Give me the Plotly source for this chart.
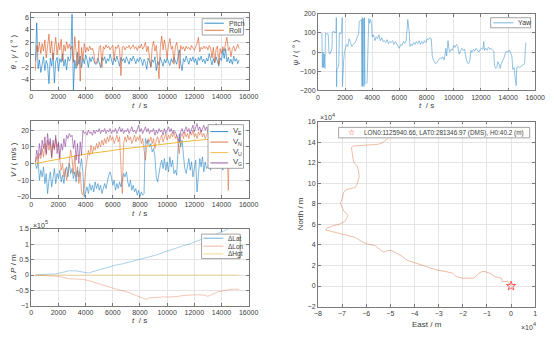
import plotly.graph_objects as go

W, H = 554, 337

# ---------------- data ----------------
# attitude / velocity sample times (s)
t_grid = list(range(300, 15301, 100))

pitch = [
    -1.0, 5.1, -2.2, -0.8, -2.8, -1.2, -0.3, -2.5, -0.9, -1.6,
    -4.6, -0.5, -1.8, 0.3, -4.5, -1.0, -0.4, -2.6, -0.6, -1.2,
    0.2, -1.8, -0.7, -2.4, -0.3, -1.0, -0.5, 6.5, -5.6, -0.8,
    -2.2, 0.4, -1.5, -0.2, -2.0, -0.6, -1.4, 0.0, -0.7, -2.0,
    -0.4, -1.1, -0.3, -0.9, -1.5, -1.3, -0.5, -1.2, -2.0, -0.4,
    -0.9, -0.3, -1.4, -0.6, -1.0, 0.1, -0.8, -1.6, -0.5, -1.1,
    -0.2, -0.9, -1.8, -0.4, -1.0, -0.6, -1.3, -0.3, -0.8, -1.5,
    -0.5, -1.0, -0.2, -0.9, -1.4, -0.6, -1.1, -0.4, -0.8, -1.7,
    -0.7, -1.2, -2.3, -0.5, -1.0, -1.9, -0.8, -1.2, -0.3, -2.5,
    -1.0, -1.6, -0.4, -1.1, -1.8, -0.7, -1.3, -0.5, -1.0, -1.7,
    -0.6, -1.2, -0.4, -0.9, -1.5, -0.3, 0.8, -1.4, -2.5, -0.6,
    -1.1, -0.2, -0.9, -1.5, -0.5, -1.0, -0.3, -1.2, -0.6, -1.6,
    -0.4, -0.9, -0.2, -1.1, -0.7, -1.4, -0.5, -1.0, 0.2, -0.8,
    -1.6, -0.6, -1.2, -0.3, -1.0, -1.8, -0.5, -0.9, 0.9, -0.6,
    1.0, -1.1, -0.4, -1.3, -0.7, -1.5, -0.2, -1.0, -0.6, -1.4,
    -0.8,
]

roll = [
    -2.5, 1.5, 0.5, 2.0, 0.2, 1.8, 0.6, 2.4, -0.5, 1.7,
    3.3, 0.3, 2.2, -0.8, 1.4, 2.8, 0.0, 1.9, 0.8, 2.5,
    -1.0, 1.6, 0.6, 2.1, 1.0, 1.7, 0.9, 1.4, -1.2, 2.9,
    0.5, -1.8, 2.3, -4.2, 1.2, -0.8, 1.8, 0.4, 1.2, 0.6,
    1.4, 0.8, 1.1, 0.3, -1.3, -1.5, -1.1, 1.2, 1.5, -2.0,
    1.3, 0.9, 1.6, 1.1, 1.4, 0.8, 1.2, 1.5, -0.8, 1.3,
    1.0, 1.6, 0.9, -3.3, 1.2, 1.4, 0.8, 1.3, 1.1, 1.5,
    0.9, 1.2, 1.6, 1.0, 1.3, 0.7, 1.4, 1.1, 1.7, 0.9,
    1.3, 2.0, 0.5, 1.4, -0.8, -2.0, 1.2, 2.2, 0.6, 1.5,
    -1.0, -3.8, 1.3, 3.0, 0.8, 2.4, 1.1, -0.5, 1.6, 2.6,
    0.9, 1.4, -1.5, 1.2, 2.0, 0.7, -2.2, 1.5, 0.9, 1.3,
    0.6, 1.4, 1.0, 1.2, 0.8, 1.5, 1.1, 0.7, 1.3, 1.8,
    2.8, 0.5, 1.2, 0.9, 1.4, 1.0, 1.3, 0.8, 1.5, 1.1,
    -0.5, 1.2, -1.3, 0.9, 1.4, -1.5, 1.0, 0.2, 1.3, 0.6,
    1.8, 2.8, 0.7, 1.2, -0.3, 1.0, 1.4, 0.6, 1.1, 1.7,
    1.0,
]

# heading, with wrap-around at +/-180 deg
yaw_t = [
    300, 330, 380, 420, 470, 520, 560, 640, 760, 820, 900, 980, 1040, 1060,
    1150, 1250, 1340, 1360, 1380, 1400, 1480, 1540, 1580, 1680, 1760, 1790,
    1810, 1840, 1900, 1960, 2020, 2100, 2200, 2300, 2400, 2500, 2600, 2700,
    2800, 2900, 3000, 3050, 3150, 3220, 3250, 3270, 3300, 3330, 3380, 3400,
    3430, 3470, 3550, 3620, 3700, 3750, 3800, 3880, 3950, 4000, 4100, 4200,
    4300, 4400, 4500, 4600, 4700, 4800, 4900, 5000, 5100, 5200, 5300, 5400,
    5500, 5600, 5700, 5800, 5900, 6000, 6100, 6200, 6300, 6400, 6500, 6560,
    6620, 6680, 6720, 6780, 6850, 6950, 7050, 7150, 7250, 7350, 7450, 7550,
    7650, 7750, 7850, 7950, 8050, 8150, 8250, 8350, 8420, 8500, 8600, 8700,
    8800, 8900, 9000, 9100, 9200, 9300, 9350, 9420, 9480, 9530, 9580, 9640,
    9700, 9800, 9900, 10000, 10100, 10200, 10300, 10400, 10500, 10600, 10700,
    10800, 10900, 11000, 11100, 11200, 11260, 11350, 11450, 11550, 11650,
    11750, 11850, 11950, 12050, 12150, 12210, 12270, 12350, 12450, 12550,
    12650, 12750, 12850, 12950, 13000, 13100, 13170, 13250, 13350, 13420,
    13500, 13600, 13700, 13800, 13900, 14000, 14100, 14200, 14280, 14350,
    14450, 14550, 14600, 14640, 14750, 14850, 14950, 15050, 15150, 15220,
    15280, 15320,
]
yaw = [
    100, -80, 0, -80, -10, -85, 100, 95, 95, -5, -10, 10, 20, 100,
    110, 100, 105, 180, -180, -90, -85, -60, 100, 95, 110, 180,
    -180, -90, -40, 0, 20, 40, 30, 70, 50, 30, 40, 45,
    60, 80, 95, 160, 165, 170, -180, 180, -175, 175, 170, -180,
    180, -160, -165, -160, 160, 175, 150, 170, 150, 80, 90, 60,
    80, 70, 90, 60, 75, 55, 60, 50, 65, 45, 55, 50,
    60, 40, 55, 45, 30, 20, 40, 35, 55, 45, 60, 120,
    170, 130, 110, 30, 40, 35, 50, 40, 55, 45, 60, 40,
    55, 45, 60, 50, 70, 65, 75, 70, -20, -40, -55, -60,
    -50, -45, -30, -35, -25, -40, -10, 20, -20, 30, 60, 20,
    0, 15, 10, 35, 25, 40, 30, -10, 5, 20, 10,
    15, -30, -55, -60, -40, 10, 0, 15, 5, 20,
    10, 0, 15, 20, 15, 55, 10, 20, 10, 25,
    15, 20, 10, 5, -70, -85, -80, -50, -65, -85,
    -60, -45, -30, -5, 5, 0, 10, -5, -20, -90,
    -80, -150, -175, -80, -75, -80, -75, -70, -65, -60,
    30, 50,
]

v_east = [
    0, -3, 1, -10, -4, -8, -2, -12, -6, -18,
    -10, -5, -14, -8, -3, -12, -6, -9, -4, -11,
    -7, -12, -5, -2, -8, 0, -6, -3, -9, -5,
    -11, -4, -8, -2, 3, -6, -20, -17, -14, -18,
    -12, -16, -13, -17, -11, -15, -12, -16, -13, -18,
    -14, -12, -15, -10, -7, -5, -8, -13, -10, -16,
    -12, -15, -11, -14, -9, -6, -8, -5, -11, -14,
    -10, -16, -13, -17, -15, -19, -16, -20, -17, -19,
    -18, 15, 12, 14, 10, 12, 7, 9, 4, -8,
    -11, -5, -1, 2, -3, 3, -4, 1, -5, 4,
    -2, 2, -6, -4, -7, 8, 18, 10, 14, 5,
    -3, -6, -2, 3, -4, 1, -8, -3, 2, -17,
    -4, 3, -2, 4, -5, 1, -3, -2, 1, -4,
    2, -1, 3, 0, -3, 2, -2, 1, -4, 3,
    0, -2, 2, -1, 3, 0, -2, 2, -1, 1,
    0,
]

v_north = [
    0, 4, 1, 6, 3, 9, 4, 12, 5, 14,
    8, 13, 3, 12, 8, 15, 10, 12, 2, -4,
    0, -8, -3, -10, -5, 2, 8, 3, -6, 5,
    -8, -2, -12, -5, -17, -19, -14, -4, 3, 8,
    5, 11, 6, 10, 8, 12, 9, 13, 10, 14,
    11, 15, 12, 16, 13, 17, 14, 16, 12, 15,
    17, 13, 16, -2, -18, 12, 16, 13, 17, 14,
    16, 12, 15, 17, 13, 16, 14, 17, 12, 15,
    8, 2, 10, 15, 13, 16, 12, 15, 9, 14,
    16, 12, 15, 17, 13, 16, 18, 14, 17, 15,
    18, 16, 19, 15, 17, 12, 6, 16, 18, 15,
    19, 16, 18, 15, 19, 17, 20, 16, 18, 15,
    19, 17, 20, 16, 18, 15, 17, 19, 16, 18,
    20, 17, 19, 16, 18, 20, 17, 19, 16, 18,
    20, 17, -16, 18, 19, 17, 20, 18, 19, 17,
    18,
]

v_ground = [
    1, 8, 3, 12, 5, 14, 9, 16, 6, 18,
    11, 15, 4, 14, 9, 17, 6, 13, 3, 12,
    8, 15, 10, 17, 15, 18, 16, 17, 9, 14,
    2, 12, 0, 13, 5, 20, 18, 19, 17, 20,
    18, 19, 17, 20, 18, 20, 19, 21, 18, 20,
    19, 21, 18, 20, 19, 21, 18, 20, 19, 21,
    18, 20, 22, 19, 21, 18, 20, 19, 21, 18,
    20, 22, 19, 20, 18, 21, 23, 19, 21, 18,
    20, 22, 19, 21, 18, 20, 19, 21, 17, 20,
    18, 21, 19, 20, 17, 21, 18, 20, 22, 19,
    21, 18, 20, 19, 17, 15, 13, 19, 21, 18,
    20, 22, 19, 21, 18, 20, 23, 19, 21, 24,
    20, 22, 19, 21, 23, 20, 22, 19, 21, 23,
    20, 22, 21, 24, 22, 20, 22, 21, 23, 20,
    22, 21, 19, 22, 20, 21, 22, 20, 21, 22,
    20,
]

vu_t = list(range(300, 15301, 500))
v_up = [
    0.0, 0.8, 1.6, 2.5, 3.2, 4.0, 4.8, 5.4, 6.0, 6.4, 7.0, 7.6, 8.3, 8.8,
    9.4, 9.9, 10.5, 11.0, 11.5, 12.0, 12.5, 12.9, 13.3, 13.6, 14.0, 14.4,
    14.8, 15.1, 15.5, 15.8, 16.1,
]

# position differences (m)
dlat_t = [300, 800, 1300, 1800, 2300, 2800, 3300, 3800, 4200, 4700, 5200,
          5700, 6200, 6700, 7200, 7700, 8200, 8700, 9200, 9700, 10200,
          10700, 11200, 11700, 12200, 12700, 13200, 13700, 14200, 14500, 15300]
dlat = [0, 2000, 3000, 3500, 8000, 14000, 13500, 10000, 6500, 13000, 20000,
        26000, 32000, 36000, 42000, 48000, 53000, 58000, 65000, 73000, 81000,
        88000, 95000, 102000, 110000, 118000, 126000, 134000, 143000, 150000,
        151000]
dlon_t = [300, 800, 1300, 1800, 2300, 2800, 3300, 3800, 4200, 4700, 5200,
          5700, 6200, 6700, 7200, 7700, 8200, 8450, 8700, 9200, 9700, 10200,
          10700, 11200, 11700, 12200, 12700, 13000, 13700, 14200, 14700, 15300]
dlon = [0, -1000, -2500, -4000, -7000, -12000, -13000, -14000, -18000,
        -25000, -33000, -40000, -45000, -51000, -57000, -66000, -74000,
        -79000, -74000, -72000, -71000, -71000, -70000, -66000, -64000,
        -64000, -65000, -69000, -55000, -50000, -46000, -46000]
dhgt_t = [300, 4000, 8000, 12000, 15300]
dhgt = [0, 30, 45, 40, 38]

# local trajectory (m)
east = [0, -700, -1300, -3600, -4000, -6700, -8700, -10800, -12100, -13400,
        -14100, -15000, -16100, -20200, -22800, -24200, -26900, -30900,
        -34900, -39000, -43000, -45700, -47000, -49700, -51000, -52700,
        -53800, -56400, -59800, -61800, -64500, -68500, -71200, -75300,
        -76900, -76300, -73900, -71200, -68800, -67900, -67500, -68100,
        -69200, -70200, -70600, -69900, -69200, -67900, -64500, -63800,
        -62900, -63200, -63800, -65200, -65600, -65900, -66100, -65200,
        -60500, -55100, -53100, -51800, -50800]
north = [0, 2900, 4400, 4400, 7600, 9200, 12400, 14000, 14000, 12400,
         10800, 8300, 7600, 7600, 9200, 12400, 14000, 15600, 18700, 21900,
         25100, 29800, 31400, 34600, 34600, 33000, 34600, 39400, 41000,
         43200, 47300, 49500, 51400, 53700, 54600, 56200, 58400, 60000,
         63200, 66300, 68600, 70500, 72700, 77500, 80600, 85400, 91700,
         94000, 95900, 99000, 106000, 112400, 117100, 120300, 125000,
         129800, 134600, 136200, 136800, 137800, 139400, 141600, 144100]
origin_label = "LON0:1125940.66, LAT0:281346.97 (DMS), H0:40.2 (m)"

# ---------------- style ----------------
BLUE, ORANGE, YELLOW, PURPLE = "#0072BD", "#D95319", "#EDB120", "#7E2F8E"
AX, GRID, TXT = "#7a7a7a", "#e4e4e4", "#3c3c3c"
FONT = "Liberation Sans, Arial, sans-serif"


def px(x):
    return x / W


def py(y):
    return 1 - y / H


LEFT = [px(28), px(251)]
RIGHT = [px(322), px(545)]


def axis(domain, rng, dtick, anchor, fmt=None):
    a = dict(domain=domain, range=rng, dtick=dtick, tick0=0, anchor=anchor,
             showline=True, linecolor=AX, linewidth=0.8, mirror="ticks",
             ticks="inside", ticklen=3, tickwidth=0.8, tickcolor=AX,
             showgrid=True, gridcolor=GRID, gridwidth=0.8, zeroline=False,
             exponentformat="none", separatethousands=False,
             tickfont=dict(family=FONT, size=7, color=TXT))
    if fmt:
        a["tickformat"] = fmt
    return a


fig = go.Figure()


def line(x, y, color, ax, width=0.6, opacity=1.0):
    fig.add_trace(go.Scatter(x=x, y=y, mode="lines", xaxis=ax[0], yaxis=ax[1],
                             line=dict(color=color, width=width),
                             opacity=opacity, showlegend=False,
                             hoverinfo="skip"))


# attitude
line(t_grid, pitch, BLUE, ("x", "y"))
line(t_grid, roll, ORANGE, ("x", "y"))
# heading
line(yaw_t, yaw, BLUE, ("x2", "y2"), width=0.6, opacity=0.7)
# velocities
line(t_grid, v_east, BLUE, ("x3", "y3"), opacity=0.85)
line(t_grid, v_north, ORANGE, ("x3", "y3"), opacity=0.85)
line(vu_t, v_up, YELLOW, ("x3", "y3"), width=0.9)
line(t_grid, v_ground, PURPLE, ("x3", "y3"), opacity=0.9)
# position differences (x1e5 m)
line(dlat_t, [v / 1e5 for v in dlat], BLUE, ("x4", "y4"), width=0.8, opacity=0.4)
line(dlon_t, [v / 1e5 for v in dlon], ORANGE, ("x4", "y4"), width=0.8, opacity=0.4)
line(dhgt_t, [v / 1e5 for v in dhgt], YELLOW, ("x4", "y4"), width=0.8, opacity=0.5)
# trajectory (x1e4 m)
line([v / 1e4 for v in east], [v / 1e4 for v in north], ORANGE, ("x5", "y5"),
     width=0.7, opacity=0.55)
fig.add_trace(go.Scatter(x=[east[0] / 1e4], y=[north[0] / 1e4], mode="markers",
                         xaxis="x5", yaxis="y5", showlegend=False,
                         marker=dict(symbol="star-open", size=7,
                                     color="#ff3333", line=dict(width=0.8))))

layout = dict(
    width=W, height=H, margin=dict(l=0, r=0, t=0, b=0),
    paper_bgcolor="white", plot_bgcolor="white", showlegend=False,
    font=dict(family=FONT, size=7, color=TXT),
    xaxis=axis(LEFT, [0, 16000], 2000, "y", "d"),
    yaxis=axis([py(88), py(9.5)], [-5.63, 6.63], 2, "x"),
    xaxis2=axis(RIGHT, [0, 16000], 2000, "y2", "d"),
    yaxis2=axis([py(88.3), py(10)], [-200, 200], 100, "x2"),
    xaxis3=axis(LEFT, [0, 16000], 2000, "y3", "d"),
    yaxis3=axis([py(198), py(119.5)], [-20.6, 25.5], 10, "x3"),
    xaxis4=axis(LEFT, [0, 16000], 2000, "y4", "d"),
    yaxis4=axis([py(308.3), py(229.5)], [-1, 1.5], 0.5, "x4"),
    xaxis5=axis(RIGHT, [-8, 1], 1, "y5"),
    yaxis5=axis([py(309), py(120)], [-2, 16], 2, "x5"),
)
fig.update_layout(**layout)

annotations = []
shapes = []


def text(x, y, s, size=8, angle=0, xanchor="center", color=TXT):
    annotations.append(dict(x=px(x), y=py(y), xref="paper", yref="paper",
                            text=s, showarrow=False, textangle=angle,
                            xanchor=xanchor, yanchor="middle",
                            font=dict(family=FONT, size=size, color=color)))


def power_label(x, y, exp):
    # "x10" with a raised exponent, as drawn by axis exponent labels
    text(x, y, "×10", size=7, xanchor="left")
    text(x + 12.2, y - 3, exp, size=5.5, xanchor="left")


def sub_label(x, y, base, sub, size=8):
    text(x, y, base, size=size, xanchor="left")
    text(x + 5.4, y + 2.6, sub, size=5.2, xanchor="left")


# axis titles
text(10, 48.8, "<i>θ</i> , <i>γ</i> / ( ° )", angle=-90)
text(139.5, 104, "<i>t</i>  / s")
text(300, 49, "<i>ψ</i> / ( ° )", angle=-90)
text(433.5, 104, "<i>t</i>  / s")
text(10, 158.8, "<i>V</i> / ( m/s )", angle=-90)
text(139.5, 214, "<i>t</i>  / s")
text(10, 268.9, "Δ <i>P</i> / m", angle=-90)
text(139.5, 323.3, "<i>t</i>  / s")
text(304, 214.5, "North / m", angle=-90)
text(433.5, 327.3, "East / m")
# exponent labels
power_label(28, 226, "5")
power_label(322, 116, "4")
power_label(528, 330, "4")


def legend_box(x0, y0, x1, y1):
    shapes.append(dict(type="rect", xref="paper", yref="paper",
                       x0=px(x0), x1=px(x1), y0=py(y1), y1=py(y0),
                       fillcolor="white", line=dict(color="#8c8c8c", width=0.8),
                       layer="above"))


def legend_sample(xa, xb, y, color, width=0.8, opacity=1.0):
    shapes.append(dict(type="line", xref="paper", yref="paper",
                       x0=px(xa), x1=px(xb), y0=py(y), y1=py(y),
                       line=dict(color=color, width=width), opacity=opacity,
                       layer="above"))


def legend_item(xa, xb, y, color, label, size=7, width=0.8, opacity=1.0):
    legend_sample(xa, xb, y, color, width, opacity)
    text(xb + 3, y, label, size=size, xanchor="left")


legend_box(203.3, 15, 245.7, 31.7)
legend_item(205.7, 225.5, 19.6, BLUE, "Pitch")
legend_item(205.7, 225.5, 26.8, ORANGE, "Roll")

legend_box(499.3, 14, 540.3, 24.3)
legend_item(502, 522.5, 19.2, BLUE, "Yaw", width=0.7, opacity=0.75)

legend_box(209.3, 123.2, 245.7, 167.8)
for yy, col, sub in [(130.3, BLUE, "E"), (141, ORANGE, "N"),
                     (151.7, YELLOW, "U"), (162.3, PURPLE, "G")]:
    legend_sample(211.7, 230, yy, col)
    sub_label(233, yy - 1, "V", sub)

legend_box(202.7, 235, 242.3, 260)
legend_item(204.5, 225, 239.3, BLUE, "ΔLat", size=6.5, width=1.4, opacity=0.4)
legend_item(204.5, 225, 247.3, ORANGE, "ΔLon", size=6.5, width=1.0, opacity=0.4)
legend_item(204.5, 225, 255.2, YELLOW, "ΔHgt", size=6.5, width=1.0, opacity=0.5)

legend_box(343.3, 126, 539.3, 136.7)
text(356.7, 131.3, "☆", size=8, color="#ff3333")
text(367, 131.3, origin_label, size=6.4, xanchor="left")

fig.update_layout(annotations=annotations, shapes=shapes)
fig.write_html("out.html")
